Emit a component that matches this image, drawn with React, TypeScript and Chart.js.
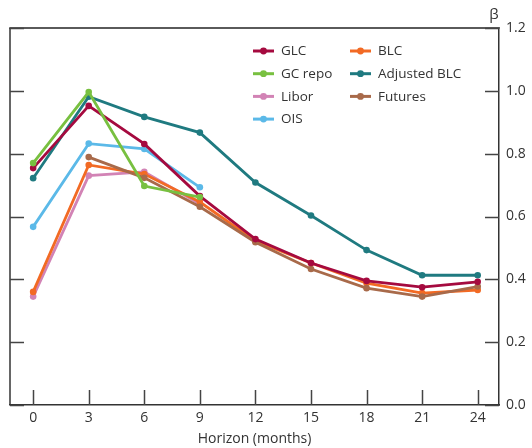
import React, { useEffect, useRef } from "react";
import { Chart, registerables } from "chart.js";

Chart.register(...registerables);

const horizons = [0, 3, 6, 9, 12, 15, 18, 21, 24];
const glc = [0.754, 0.952, 0.831, 0.665, 0.528, 0.452, 0.395, 0.375, 0.392];
const gcRepo = [0.77, 0.996, 0.697, 0.662, null, null, null, null, null];
const libor = [0.345, 0.73, 0.742, 0.64, null, null, null, null, null];
const ois = [0.567, 0.832, 0.815, 0.693, null, null, null, null, null];
const blc = [0.36, 0.764, 0.735, 0.646, 0.522, 0.452, 0.388, 0.356, 0.366];
const adjustedBlc = [0.722, 0.981, 0.917, 0.867, 0.708, 0.603, 0.493, 0.413, 0.413];
const futures = [null, 0.789, 0.723, 0.631, 0.518, 0.433, 0.372, 0.345, 0.377];

const yTicks = [0, 0.2, 0.4, 0.6, 0.8, 1.0, 1.2];
const xTitle = "Horizon (months)";
const yUnit = "β";

const legendCol1 = ["GLC", "GC repo", "Libor", "OIS"];
const legendCol2 = ["BLC", "Adjusted BLC", "Futures"];

const FONT = "'Open Sans', 'Noto Sans', sans-serif";
const TEXT = "#333333";

const series = [
  { label: "GLC", values: glc, color: "#a50a3f", order: 1 },
  { label: "GC repo", values: gcRepo, color: "#78c040", order: 0 },
  { label: "Libor", values: libor, color: "#d283b5", order: 6 },
  { label: "OIS", values: ois, color: "#5bb9e8", order: 3 },
  { label: "BLC", values: blc, color: "#f26a24", order: 5 },
  { label: "Adjusted BLC", values: adjustedBlc, color: "#1f7a80", order: 2 },
  { label: "Futures", values: futures, color: "#a86a4a", order: 4 },
];

const toPoints = (vals: (number | null)[]) =>
  horizons
    .map((h, i) => ({ x: h, y: vals[i] }))
    .filter((p) => p.y !== null);

const framePlugin = {
  id: "frame",
  afterDraw(chart: any) {
    const { ctx, chartArea } = chart;
    const { left, right, top, bottom } = chartArea;
    const xs = chart.scales.x;
    const ys = chart.scales.y;
    ctx.save();
    // top line
    ctx.strokeStyle = "#5a5a5a";
    ctx.lineWidth = 2;
    ctx.beginPath();
    ctx.moveTo(left - 0.75, top);
    ctx.lineTo(right + 0.75, top);
    ctx.stroke();
    // left line
    ctx.strokeStyle = "#333333";
    ctx.lineWidth = 1.5;
    ctx.beginPath();
    ctx.moveTo(left, top);
    ctx.lineTo(left, bottom);
    ctx.stroke();
    // inward ticks
    ctx.strokeStyle = "#444444";
    ctx.lineWidth = 1.5;
    ctx.beginPath();
    for (const v of horizons) {
      const px = Math.round(xs.getPixelForValue(v)) + 0.5;
      ctx.moveTo(px, bottom);
      ctx.lineTo(px, bottom - 15);
    }
    for (const v of yTicks) {
      const py = Math.round(ys.getPixelForValue(v)) + 0.5;
      ctx.moveTo(right, py);
      ctx.lineTo(right - 14, py);
      ctx.moveTo(left, py);
      ctx.lineTo(left + 14, py);
    }
    ctx.stroke();
    // beta unit label
    ctx.fillStyle = TEXT;
    ctx.font = `15px ${FONT}`;
    ctx.textAlign = "center";
    ctx.textBaseline = "middle";
    ctx.fillText(yUnit, right - 5, 15);
    // legend
    const cols = [
      { labels: legendCol1, x0: 253 },
      { labels: legendCol2, x0: 350 },
    ];
    ctx.font = `13.5px ${FONT}`;
    ctx.textAlign = "left";
    for (const col of cols) {
      col.labels.forEach((lab, i) => {
        const s = series.find((d) => d.label === lab)!;
        const y = 51 + i * 22.7;
        ctx.strokeStyle = s.color;
        ctx.fillStyle = s.color;
        ctx.lineWidth = 3;
        ctx.beginPath();
        ctx.moveTo(col.x0, y);
        ctx.lineTo(col.x0 + 21, y);
        ctx.stroke();
        ctx.beginPath();
        ctx.arc(col.x0 + 10.5, y, 3.4, 0, Math.PI * 2);
        ctx.fill();
        ctx.fillStyle = TEXT;
        ctx.fillText(lab, col.x0 + 28, y + 0.5);
      });
    }
    ctx.restore();
  },
};

export default function App() {
  const ref = useRef<HTMLCanvasElement | null>(null);
  useEffect(() => {
    if (!ref.current) return;
    const chart = new Chart(ref.current, {
      type: "line",
      data: {
        datasets: series.map((s) => ({
          label: s.label,
          data: toPoints(s.values) as any,
          borderColor: s.color,
          backgroundColor: s.color,
          pointBackgroundColor: s.color,
          pointBorderColor: s.color,
          borderWidth: 2.8,
          pointRadius: 3.3,
          pointBorderWidth: 0,
          tension: 0,
          order: s.order,
          clip: false as any,
        })),
      },
      options: {
        animation: false,
        responsive: false,
        devicePixelRatio: 1,
        layout: { padding: { left: 10, top: 28, right: 0, bottom: 0 } },
        plugins: { legend: { display: false }, tooltip: { enabled: false } },
        scales: {
          x: {
            type: "linear",
            min: -1.25,
            max: 25.15,
            afterBuildTicks: (scale: any) => {
              scale.ticks = horizons.map((v) => ({ value: v }));
            },
            afterFit: (scale: any) => {
              scale.height = 43;
            },
            grid: { display: false, drawTicks: false },
            border: { display: true, color: "#333333", width: 1.5 },
            ticks: {
              autoSkip: false,
              maxRotation: 0,
              padding: 5,
              color: TEXT,
              font: { family: FONT, size: 14 },
              callback: (v: any) => String(v),
            },
            title: {
              display: true,
              text: xTitle,
              color: TEXT,
              font: { family: FONT, size: 14 },
              padding: { top: 0, bottom: 1 },
            },
          },
          y: {
            type: "linear",
            position: "right",
            min: 0,
            max: 1.2,
            afterBuildTicks: (scale: any) => {
              scale.ticks = yTicks.map((v) => ({ value: v }));
            },
            afterFit: (scale: any) => {
              scale.width = 33;
            },
            grid: { display: false, drawTicks: false },
            border: { display: true, color: "#333333", width: 1.5 },
            ticks: {
              padding: 7,
              color: TEXT,
              font: { family: FONT, size: 14 },
              callback: (v: any) => Number(v).toFixed(1),
            },
          },
        },
      },
      plugins: [framePlugin],
    });
    return () => chart.destroy();
  }, []);
  return (
    <div style={{ position: "fixed", left: 0, top: 0, width: 532, height: 448, background: "#fff" }}>
      <canvas ref={ref} width={532} height={448} style={{ width: 532, height: 448 }} />
    </div>
  );
}
